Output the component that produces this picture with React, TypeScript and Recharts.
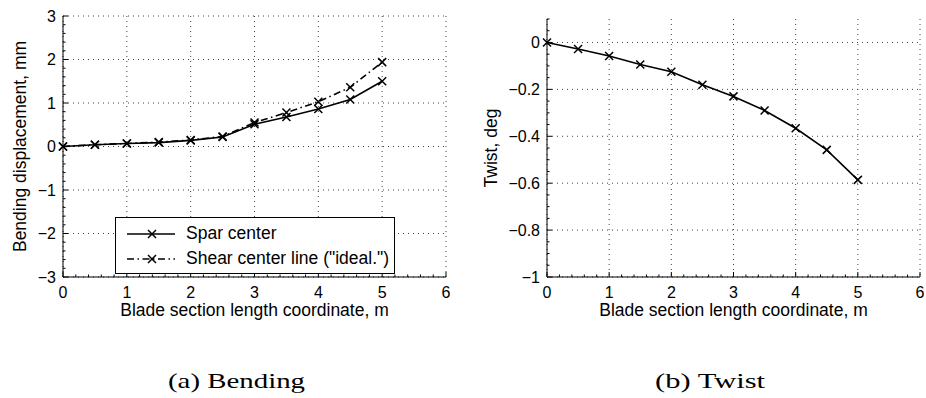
import React from "react";
import { LineChart, Line, XAxis, YAxis, CartesianGrid, Legend } from "recharts";

// blade section coordinate, m
const positions = [0, 0.5, 1, 1.5, 2, 2.5, 3, 3.5, 4, 4.5, 5];
// bending displacement, mm
const sparCenter = [0, 0.04, 0.07, 0.09, 0.14, 0.22, 0.51, 0.68, 0.86, 1.08, 1.5];
const shearCenter = [0, 0.04, 0.07, 0.1, 0.15, 0.23, 0.55, 0.78, 1.03, 1.36, 1.94];
// twist, deg
const twistDeg = [0, -0.028, -0.058, -0.094, -0.125, -0.18, -0.23, -0.29, -0.366, -0.458, -0.586];

const xTicks = [0, 1, 2, 3, 4, 5, 6];
const bendTicks = [-3, -2, -1, 0, 1, 2, 3];
const twistTicks = [-1, -0.8, -0.6, -0.4, -0.2, 0];

const SANS = "'Liberation Sans', Arial, Helvetica, sans-serif";
const SERIF = "'Liberation Serif', 'Times New Roman', serif";
const TICK_GAP = 10;

const bendData = positions.map((x, i) => ({ x, spar: sparCenter[i], shear: shearCenter[i] }));
const twistData = positions.map((x, i) => ({ x, twist: twistDeg[i] }));

// minor tick positions (axis decoration only)
function withMinor(from: number, to: number, step: number) {
  const out: number[] = [];
  for (let k = 0; from + k * step <= to + 1e-9; k++) {
    out.push(Math.round((from + k * step) * 1000) / 1000);
  }
  return out;
}

const fmt = (v: number) => String(v).replace("-", "\u2212");
const isIn = (list: number[], v: number) => list.some((m) => Math.abs(m - v) < 1e-6);

function makeXTick(majors: number[]) {
  return (props: any) => {
    const { x, y, payload } = props;
    const v = payload.value;
    const major = isIn(majors, v);
    const axisY = y - TICK_GAP;
    return (
      <g>
        <line x1={x} x2={x} y1={axisY} y2={axisY - (major ? 5 : 2.5)} stroke="#000" />
        {major && (
          <text x={x} y={axisY + 21} textAnchor="middle" fontSize={16} fontFamily={SANS} fill="#000">
            {fmt(v)}
          </text>
        )}
      </g>
    );
  };
}

function makeYTick(majors: number[]) {
  return (props: any) => {
    const { x, y, payload } = props;
    const v = payload.value;
    const major = isIn(majors, v);
    const axisX = x + TICK_GAP;
    return (
      <g>
        <line x1={axisX} x2={axisX + (major ? 5 : 2.5)} y1={y} y2={y} stroke="#000" />
        {major && (
          <text x={axisX - 7} y={y} dy="0.36em" textAnchor="end" fontSize={16} fontFamily={SANS} fill="#000">
            {fmt(v)}
          </text>
        )}
      </g>
    );
  };
}

function XMark({ cx, cy }: { cx?: number; cy?: number }) {
  if (cx == null || cy == null) return null;
  const s = 4;
  return (
    <path
      d={`M${cx - s},${cy - s}L${cx + s},${cy + s}M${cx - s},${cy + s}L${cx + s},${cy - s}`}
      stroke="#000"
      strokeWidth={1.5}
      fill="none"
    />
  );
}

const renderX = (p: any) => <XMark key={`m${p.index}`} cx={p.cx} cy={p.cy} />;

function AxisTitleX({ viewBox, value }: any) {
  const { x, y, width } = viewBox;
  return (
    <text x={x + width / 2} y={y + 39} textAnchor="middle" fontSize={17.5} fontFamily={SANS} fill="#000">
      {value}
    </text>
  );
}

function AxisTitleY({ viewBox, value, base }: any) {
  const { x, y, height } = viewBox;
  const cx = x + base;
  const cy = y + height / 2;
  return (
    <text
      x={cx}
      y={cy}
      transform={`rotate(-90 ${cx} ${cy})`}
      textAnchor="middle"
      fontSize={17.5}
      fontFamily={SANS}
      fill="#000"
    >
      {value}
    </text>
  );
}

const legendOrder = ["spar", "shear"];
const dashes: Record<string, string | undefined> = {
  spar: undefined,
  shear: "7 3.5 1.5 3.5",
};

function LegendBox({ payload }: any) {
  const items = [...(payload || [])].sort(
    (a: any, b: any) => legendOrder.indexOf(a.dataKey) - legendOrder.indexOf(b.dataKey)
  );
  return (
    <div
      style={{
        border: "1px solid #000",
        background: "#fff",
        boxSizing: "border-box",
        width: 280,
        height: 57,
        paddingTop: 3,
        fontFamily: SANS,
        fontSize: 17.5,
        color: "#000",
      }}
    >
      {items.map((e: any) => (
        <div key={e.value} style={{ display: "flex", alignItems: "center", height: 25 }}>
          <svg width={70} height={20} style={{ display: "block" }}>
            <line
              x1={11}
              x2={59}
              y1={10}
              y2={10}
              stroke="#000"
              strokeWidth={1.6}
              strokeDasharray={dashes[e.dataKey]}
            />
            <XMark cx={36} cy={10} />
          </svg>
          <span style={{ whiteSpace: "nowrap" }}>{e.value}</span>
        </div>
      ))}
    </div>
  );
}

const gridProps = { stroke: "#444", strokeDasharray: "1 4" };

export default function App() {
  return (
    <div style={{ position: "absolute", left: 0, top: 0, width: 926, height: 398, background: "#fff" }}>
      <div style={{ position: "absolute", left: 0, top: 0 }}>
        <LineChart width={463} height={322} data={bendData} margin={{ top: 16, right: 17, bottom: 0, left: 0 }}>
          <CartesianGrid {...gridProps} horizontalValues={bendTicks} verticalValues={xTicks} />
          <XAxis
            type="number"
            dataKey="x"
            domain={[0, 6]}
            ticks={withMinor(0, 6, 0.2)}
            interval={0}
            height={45}
            tickSize={0}
            tickMargin={TICK_GAP}
            tickLine={false}
            axisLine={{ stroke: "#000" }}
            tick={makeXTick(xTicks)}
            label={<AxisTitleX value="Blade section length coordinate, m" />}
          />
          <YAxis
            type="number"
            domain={[-3, 3]}
            ticks={withMinor(-3, 3, 0.2)}
            interval={0}
            width={63}
            tickSize={0}
            tickMargin={TICK_GAP}
            tickLine={false}
            axisLine={{ stroke: "#000" }}
            tick={makeYTick(bendTicks)}
            label={<AxisTitleY value="Bending displacement, mm" base={25.5} />}
          />
          <Line
            dataKey="spar"
            name="Spar center"
            stroke="#000"
            strokeWidth={1.6}
            dot={renderX}
            activeDot={false}
            isAnimationActive={false}
          />
          <Line
            dataKey="shear"
            name={'Shear center line ("ideal.")'}
            stroke="#000"
            strokeWidth={1.6}
            strokeDasharray={dashes.shear}
            dot={renderX}
            activeDot={false}
            isAnimationActive={false}
          />
          <Legend
            layout="vertical"
            align="center"
            verticalAlign="middle"
            content={<LegendBox />}
            wrapperStyle={{ position: "absolute", left: 115, top: 217, width: 280, height: 57 }}
          />
        </LineChart>
      </div>
      <div style={{ position: "absolute", left: 463, top: 0 }}>
        <LineChart width={463} height={322} data={twistData} margin={{ top: 19, right: 6, bottom: 0, left: 0 }}>
          <CartesianGrid {...gridProps} horizontalValues={twistTicks} verticalValues={xTicks} />
          <XAxis
            type="number"
            dataKey="x"
            domain={[0, 6]}
            ticks={withMinor(0, 6, 0.2)}
            interval={0}
            height={45}
            tickSize={0}
            tickMargin={TICK_GAP}
            tickLine={false}
            axisLine={{ stroke: "#000" }}
            tick={makeXTick(xTicks)}
            label={<AxisTitleX value="Blade section length coordinate, m" />}
          />
          <YAxis
            type="number"
            domain={[-1, 0.1]}
            allowDataOverflow
            ticks={withMinor(-1, 0.1, 0.05)}
            interval={0}
            width={84}
            tickSize={0}
            tickMargin={TICK_GAP}
            tickLine={false}
            axisLine={{ stroke: "#000" }}
            tick={makeYTick(twistTicks)}
            label={<AxisTitleY value="Twist, deg" base={34} />}
          />
          <Line
            dataKey="twist"
            name="Twist"
            stroke="#000"
            strokeWidth={1.6}
            dot={renderX}
            activeDot={false}
            isAnimationActive={false}
          />
        </LineChart>
      </div>
      <svg width={926} height={398} style={{ position: "absolute", left: 0, top: 0, pointerEvents: "none" }}>
        <text
          x={168}
          y={388}
          fontSize={22}
          fontFamily={SERIF}
          textLength={137}
          lengthAdjust="spacingAndGlyphs"
          fill="#000"
        >
          (a) Bending
        </text>
        <text
          x={655}
          y={388}
          fontSize={22}
          fontFamily={SERIF}
          textLength={110}
          lengthAdjust="spacingAndGlyphs"
          fill="#000"
        >
          (b) Twist
        </text>
      </svg>
    </div>
  );
}
